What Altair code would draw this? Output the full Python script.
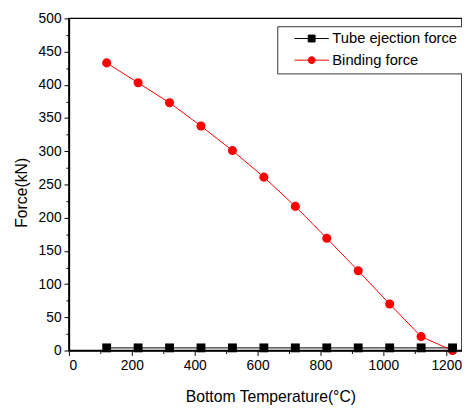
import altair as alt
import pandas as pd

temps = [120, 220, 320, 420, 520, 620, 720, 820, 920, 1020, 1120, 1220]
tube_force = [4, 4, 4, 4, 4, 4, 4, 4, 4, 4, 4, 4]
binding_force = [433, 403, 373, 338, 301, 261, 217, 169, 120, 70, 21, 0]
series = ["Tube ejection force", "Binding force"]
colors = ["black", "red"]
x_major = [0, 200, 400, 600, 800, 1000, 1200]
x_minor = [100, 300, 500, 700, 900, 1100]
y_major = [0, 50, 100, 150, 200, 250, 300, 350, 400, 450, 500]
y_minor = [25, 75, 125, 175, 225, 275, 325, 375, 425, 475]

rows = []
for t, v in zip(temps, tube_force):
    rows.append({"T": t, "F": v, "s": series[0]})
for t, v in zip(temps, binding_force):
    rows.append({"T": t, "F": v, "s": series[1]})
df = pd.DataFrame(rows)

font = "Liberation Sans"
xs = alt.Scale(domain=[0, 1250], nice=False)
ys = alt.Scale(domain=[0, 500], nice=False)

x_main = alt.X("T:Q", scale=xs, axis=alt.Axis(
    values=x_major, tickSize=5, orient="bottom",
    title="Bottom Temperature(\u00b0C)",
    titleX=205, titleY=47, titleBaseline="middle", titleAlign="center",
    format="d"))
y_main = alt.Y("F:Q", scale=ys, axis=alt.Axis(
    values=y_major, tickSize=5, orient="left",
    title="Force(kN)",
    titleX=-48, titleY=177, titleAngle=-90, titleBaseline="middle", titleAlign="center",
    format="d"))
x_min = alt.X("T:Q", scale=xs, axis=alt.Axis(
    values=x_minor, tickSize=3, orient="bottom", labels=False, domain=False, title=None))
y_min = alt.Y("F:Q", scale=ys, axis=alt.Axis(
    values=y_minor, tickSize=3, orient="left", labels=False, domain=False, title=None))

color_scale = alt.Scale(domain=series, range=colors)
base = alt.Chart(df)

red_line = base.transform_filter(alt.datum.s == series[1]).mark_line(
    strokeWidth=1, color="red").encode(x=x_main, y=y_main)
blk_line = base.transform_filter(alt.datum.s == series[0]).mark_line(
    strokeWidth=1, color="black").encode(x=x_min, y=y_min)
red_pts = base.transform_filter(alt.datum.s == series[1]).mark_point(
    filled=True, shape="circle", size=85, color="red", opacity=1
).encode(x=alt.X("T:Q", scale=xs, axis=None), y=alt.Y("F:Q", scale=ys, axis=None))
blk_pts = base.transform_filter(alt.datum.s == series[0]).mark_point(
    filled=True, shape="square", size=81, color="black", opacity=1
).encode(x=alt.X("T:Q", scale=xs, axis=None), y=alt.Y("F:Q", scale=ys, axis=None))

# legend glyphs: unit = 5px (symbolSize 100); line 35px long, marker ~7px
sq_path = "M1,0H8M3.8,-0.7H5.2V0.7H3.8Z"
ci_path = "M1,0H8M3.8,0A0.7,0.7,0,1,0,5.2,0A0.7,0.7,0,1,0,3.8,0Z"
legend_layer = base.mark_point(filled=True, size=0, opacity=1).encode(
    x=alt.X("T:Q", scale=xs, axis=None), y=alt.Y("F:Q", scale=ys, axis=None),
    color=alt.Color("s:N", scale=color_scale, sort=series,
                    legend=alt.Legend(
                        title=None, orient="none", legendX=212, legendY=8,
                        symbolSize=100, symbolOpacity=1, symbolStrokeWidth=1,
                        labelFontSize=15, labelFont=font, labelColor="black",
                        strokeColor="#333", fillColor="white", padding=5,
                        labelOffset=36, rowPadding=6, labelLimit=300,
                    )),
    stroke=alt.Stroke("s:N", scale=color_scale, sort=series),
    shape=alt.Shape("s:N", scale=alt.Scale(domain=series, range=[sq_path, ci_path]), sort=series),
)

chart = alt.layer(blk_line, red_line, red_pts, blk_pts, legend_layer).resolve_axis(
    x="independent", y="independent"
).properties(
    width=400, height=338,
    autosize=alt.AutoSizeParams(type="none"),
    padding={"left": 62, "top": 7, "right": 0, "bottom": 60},
).configure_view(
    stroke="black", strokeWidth=1.5
).configure_axis(
    labelFont=font, titleFont=font, labelFontSize=14, titleFontSize=16,
    labelColor="black", titleColor="black", titleFontWeight="normal",
    domainColor="black", domainWidth=1.5, tickColor="black", tickWidth=1,
    grid=False, labelPadding=3, labelOverlap=False, labelBound=False,
)

chart.save("out.html", embed_options={"renderer": "svg", "actions": False})
